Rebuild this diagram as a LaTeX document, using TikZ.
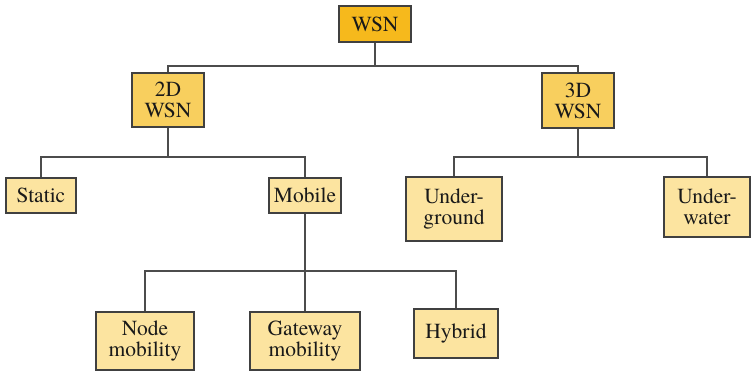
\documentclass[tikz,border=0pt]{standalone}
\usepackage{fontspec}
\setmainfont{TeX Gyre Termes}
\begin{document}
\begin{tikzpicture}[x=1pt,y=-1pt,
  box/.style={draw=black!75, line width=1.6pt, align=center, inner sep=0pt,
    font=\fontsize{21.5}{21}\selectfont, text=black!90},
  top/.style={box, fill=topc},
  mid/.style={box, fill=midc},
  leaf/.style={box, fill=leafc},
  conn/.style={draw=black!70, line width=1.6pt}]
\definecolor{topc}{HTML}{F6B91C}
\definecolor{midc}{HTML}{F8CF5E}
\definecolor{leafc}{HTML}{FCE4A0}
\useasboundingbox (0,0) rectangle (751,371);
\node[top, minimum width=72pt, minimum height=36pt] (wsn) at (375,24) {WSN};
\node[mid, minimum width=72pt, minimum height=54pt] (d2) at (168,100) {2D\\WSN};
\node[mid, minimum width=72pt, minimum height=55pt] (d3) at (578,100.5) {3D\\WSN};
\node[leaf, minimum width=70pt, minimum height=35pt] (static) at (41,195.5) {Static};
\node[leaf, minimum width=72pt, minimum height=35pt] (mobile) at (305,195.5) {Mobile};
\node[leaf, minimum width=96pt, minimum height=64pt] (ug) at (454,209) {Under-\\ground};
\node[leaf, minimum width=86pt, minimum height=60pt] (uw) at (707,207) {Under-\\water};
\node[leaf, minimum width=98pt, minimum height=58pt] (nm) at (145,341) {Node\\mobility};
\node[leaf, minimum width=110pt, minimum height=58pt] (gm) at (305,341) {Gateway\\mobility};
\node[leaf, minimum width=84pt, minimum height=49pt] (hy) at (456,333.5) {Hybrid};
\draw[conn] (wsn.south) -- +(0,23) -| (d2.north);
\draw[conn] (wsn.south) -- +(0,23) -| (d3.north);
\draw[conn] (d2.south) -- +(0,29) -| (static.north);
\draw[conn] (d2.south) -- +(0,29) -| (mobile.north);
\draw[conn] (d3.south) -- +(0,28) -| (ug.north);
\draw[conn] (d3.south) -- +(0,28) -| (uw.north);
\draw[conn] (mobile.south) -- +(0,57) -| (nm.north);
\draw[conn] (mobile.south) -- +(0,57) -| (gm.north);
\draw[conn] (mobile.south) -- +(0,57) -| (hy.north);
\end{tikzpicture}
\end{document}
